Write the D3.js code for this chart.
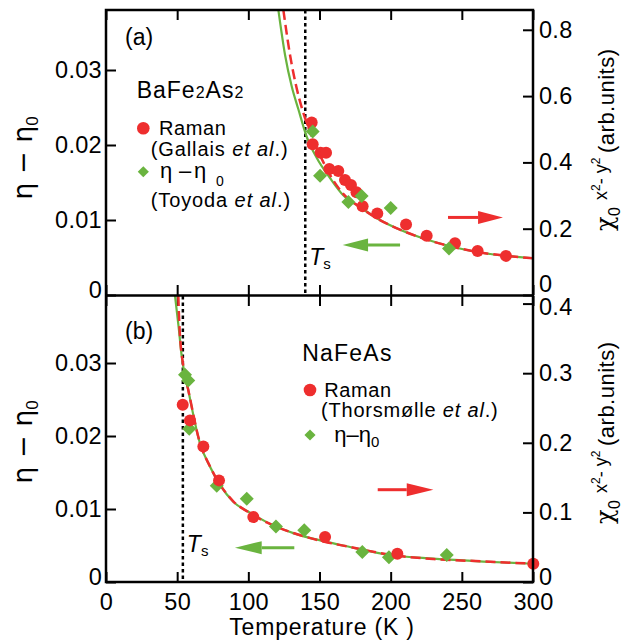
<!DOCTYPE html>
<html>
<head>
<meta charset="utf-8">
<script src="https://cdn.jsdelivr.net/npm/d3@7"></script>
<style>
  body { margin: 0; background: #fff; }
  svg { display: block; font-family: "Liberation Sans", Arial, Helvetica, sans-serif; }
</style>
</head>
<body>
<svg id="chart" width="632" height="644"></svg>
<script>
// ---- shared axis ticks ----
const tempTicks = [0, 50, 100, 150, 200, 250, 300];
const etaTicks = [0, 0.01, 0.02, 0.03];
const chiTicksA = [0, 0.2, 0.4, 0.6, 0.8];
const chiTicksB = [0, 0.1, 0.2, 0.3, 0.4];

// ---- (a) BaFe2As2 ----
const ramanTempA = [144.5, 145.2, 150.8, 154.6, 156.9, 163.2, 167.9, 172.1, 176.0, 180.3, 190.6, 210.8, 225.3, 245.2, 261.1, 281.0];
const ramanChiA  = [0.520, 0.455, 0.429, 0.429, 0.380, 0.374, 0.347, 0.332, 0.310, 0.268, 0.246, 0.213, 0.179, 0.156, 0.133, 0.118];
const etaTempA = [145.2, 150.4, 170.3, 179.6, 200.0, 241.0];
const etaA     = [0.0218, 0.0159, 0.0124, 0.0132, 0.0116, 0.0062];
const fitEtaTempA = [121.1, 125.8, 130.5, 135.1, 141.0, 148.0, 157.4, 166.7, 178.5, 192.5, 206.6, 225.3, 241.7, 265.1, 300];
const fitEtaA     = [0.0380, 0.0320, 0.0278, 0.0248, 0.0211, 0.0183, 0.0156, 0.0133, 0.0117, 0.0100, 0.0087, 0.0074, 0.0065, 0.0056, 0.0049];
const fitChiTempA = [124.6, 129.3, 134.0, 138.6, 142.0, 145.0, 148.0, 152.0, 157.4, 166.7, 178.5, 192.5, 206.6, 225.3, 241.7, 265.1, 300];
const fitChiA     = [0.860, 0.724, 0.623, 0.550, 0.508, 0.474, 0.443, 0.407, 0.362, 0.305, 0.265, 0.226, 0.197, 0.167, 0.147, 0.127, 0.111];
const tsA = 140;

// ---- (b) NaFeAs ----
const ramanTempB = [53.9, 59.0, 68.4, 79.4, 103.5, 153.9, 204.7, 300.2];
const ramanChiB  = [0.2547, 0.2322, 0.1948, 0.146, 0.0934, 0.0647, 0.0407, 0.0263];
const etaTempB = [55.5, 57.8, 58.5, 77.8, 98.9, 119.4, 139.3, 180.1, 198.8, 239.4];
const etaB     = [0.0284, 0.0276, 0.0210, 0.0132, 0.0114, 0.0076, 0.0071, 0.0041, 0.0034, 0.0037];
const fitEtaTempB = [48.5, 51.0, 53.2, 57.8, 66.0, 73.1, 80.1, 89.4, 101.2, 112.9, 131.6, 152.7, 171.4, 199.5, 230.0, 265.1, 300];
const fitEtaB     = [0.0392, 0.0350, 0.0309, 0.0263, 0.0190, 0.0158, 0.0133, 0.0110, 0.0095, 0.0082, 0.0067, 0.0056, 0.0048, 0.0037, 0.0032, 0.0028, 0.0025];
const fitChiTempB = [50.8, 51.5, 54.3, 57.8, 66.0, 73.1, 80.1, 89.4, 101.2, 112.9, 131.6, 152.7, 171.4, 199.5, 230.0, 265.1, 300];
const fitChiB     = [0.411, 0.372, 0.310, 0.276, 0.200, 0.166, 0.140, 0.116, 0.0989, 0.0856, 0.0704, 0.0583, 0.0503, 0.0392, 0.0330, 0.0296, 0.0263];
const tsB = 54;

// arrows: [tailT, tipT, headBaseT, value] (value on the axis the arrow points to)
const arrowChiA = [240.3, 278.9, 261.4, 0.234];
const arrowEtaA = [206.6, 166.3, 184.1, 0.00667];
const arrowChiB = [190.9, 230.0, 211.3, 0.1326];
const arrowEtaB = [132.3, 90.6, 109.4, 0.0047];

const RED = "#ee2e2e";
const GREEN = "#6ab43f";
const FONT = "'Liberation Sans', Arial, Helvetica, sans-serif";
const GREEK = "'DejaVu Sans', 'Liberation Sans', sans-serif";
const CHI = "'DejaVu Serif', 'Liberation Serif', serif";

const svg = d3.select("#chart");
svg.append("rect").attr("width", 632).attr("height", 644).attr("fill", "#fff");

const left = 106, right = 533;
const x = d3.scaleLinear().domain([0, 300]).range([left, right]);

const zip = (a, b) => a.map((v, i) => [v, b[i]]);

const panels = [
  { id: "a", top: 10, bottom: 295, etaMax: 0.0380, chiMax: 0.8597, chiTicks: chiTicksA,
    raman: zip(ramanTempA, ramanChiA), eta: zip(etaTempA, etaA),
    fitEta: zip(fitEtaTempA, fitEtaA), fitChi: zip(fitChiTempA, fitChiA),
    ts: tsA, arrowChi: arrowChiA, arrowEta: arrowEtaA, diamondsOnTop: true, labels: false,
    zeroShiftL: 2, zeroShiftR: -4, topShiftR: 0 },
  { id: "b", top: 296, bottom: 582, etaMax: 0.03918, chiMax: 0.4109, chiTicks: chiTicksB,
    raman: zip(ramanTempB, ramanChiB), eta: zip(etaTempB, etaB),
    fitEta: zip(fitEtaTempB, fitEtaB), fitChi: zip(fitChiTempB, fitChiB),
    ts: tsB, arrowChi: arrowChiB, arrowEta: arrowEtaB, diamondsOnTop: false, labels: true,
    zeroShiftL: 2, zeroShiftR: 2, topShiftR: 3 }
];

const fmtEta = d => d === 0 ? "0" : d3.format(".2f")(d);
const fmtChi = d => d === 0 ? "0" : d3.format(".1f")(d);

function styleAxis(g) {
  g.attr("font-family", FONT).attr("font-size", 23.5);
  g.select(".domain").remove();
  g.selectAll(".tick line").attr("stroke", "#000").attr("stroke-width", 2);
  g.selectAll(".tick text").attr("fill", "#000").attr("letter-spacing", "0.3px");
}

const diamond = d3.symbol(d3.symbolSquare, 98)();
const diamondSmall = d3.symbol(d3.symbolSquare, 62)();

panels.forEach(p => {
  const yL = d3.scaleLinear().domain([0, p.etaMax]).range([p.bottom, p.top]);
  const yR = d3.scaleLinear().domain([0, p.chiMax]).range([p.bottom, p.top]);
  const g = svg.append("g").attr("class", "panel-" + p.id);

  // clip region for the fitted curves
  const clipId = "clip-" + p.id;
  svg.append("clipPath").attr("id", clipId)
    .append("rect").attr("x", left).attr("y", p.top).attr("width", right - left).attr("height", p.bottom - p.top);

  // axes with inward ticks
  g.append("g").attr("transform", `translate(${left},0)`)
    .call(d3.axisLeft(yL).tickValues(etaTicks).tickSize(-10).tickPadding(4).tickFormat(fmtEta))
    .call(styleAxis)
    .selectAll(".tick text").filter(d => d === 0).attr("dy", null).attr("y", p.zeroShiftL);
  const rAxis = g.append("g").attr("transform", `translate(${right},0)`)
    .call(d3.axisRight(yR).tickValues(p.chiTicks).tickSize(-10).tickPadding(6).tickFormat(fmtChi))
    .call(styleAxis);
  rAxis.selectAll(".tick text").filter(d => d === 0).attr("dy", null).attr("y", p.zeroShiftR);
  rAxis.selectAll(".tick text").filter(d => d === p.chiTicks[p.chiTicks.length - 1]).attr("y", p.topShiftR);
  g.append("g").attr("transform", `translate(0,${p.bottom})`)
    .call(d3.axisBottom(x).tickValues(tempTicks).tickSize(-10).tickPadding(11).tickFormat(p.labels ? d3.format("d") : () => ""))
    .call(styleAxis);
  g.append("g").attr("transform", `translate(0,${p.top})`)
    .call(d3.axisTop(x).tickValues(tempTicks).tickSize(-10).tickFormat(() => ""))
    .call(styleAxis);

  // structural transition line
  g.append("line")
    .attr("x1", x(p.ts)).attr("x2", x(p.ts)).attr("y1", p.top).attr("y2", p.bottom)
    .attr("stroke", "#000").attr("stroke-width", 2.5).attr("stroke-dasharray", "3.5,3");

  // fitted curves
  const curves = g.append("g").attr("clip-path", `url(#${clipId})`);
  curves.append("path").datum(p.fitEta)
    .attr("d", d3.line().x(d => x(d[0])).y(d => yL(d[1])).curve(d3.curveMonotoneX))
    .attr("fill", "none").attr("stroke", GREEN).attr("stroke-width", 2.2);
  curves.append("path").datum(p.fitChi)
    .attr("d", d3.line().x(d => x(d[0])).y(d => yR(d[1])).curve(d3.curveMonotoneX))
    .attr("fill", "none").attr("stroke", RED).attr("stroke-width", 2.5).attr("stroke-dasharray", "10,5");

  // data markers
  const drawCircles = () => g.append("g").selectAll("circle").data(p.raman).join("circle")
    .attr("cx", d => x(d[0])).attr("cy", d => yR(d[1])).attr("r", 6).attr("fill", RED);
  const drawDiamonds = () => g.append("g").selectAll("path").data(p.eta).join("path")
    .attr("d", diamond)
    .attr("transform", d => `translate(${x(d[0])},${yL(d[1])}) rotate(45)`)
    .attr("fill", GREEN);
  if (p.diamondsOnTop) { drawCircles(); drawDiamonds(); } else { drawDiamonds(); drawCircles(); }

  // arrows showing which axis each series uses
  const arrow = (spec, yScale, color) => {
    const [tail, tip, base, v] = spec;
    const yy = yScale(v);
    g.append("line").attr("x1", x(tail)).attr("x2", x(base)).attr("y1", yy).attr("y2", yy)
      .attr("stroke", color).attr("stroke-width", 3);
    g.append("path")
      .attr("d", `M${x(tip)},${yy}L${x(base)},${yy - 6.5}L${x(base)},${yy + 6.5}Z`)
      .attr("fill", color);
  };
  arrow(p.arrowChi, yR, RED);
  arrow(p.arrowEta, yL, GREEN);

  // T_s label
  const tsText = g.append("text").attr("x", x(p.ts) + 4).attr("y", p.id === "a" ? 265 : 552)
    .attr("font-size", 23).attr("fill", "#000");
  tsText.append("tspan").attr("font-style", "italic").text("T");
  tsText.append("tspan").attr("font-size", 15).attr("dy", 4).text("s");

  // left axis title: η − η0
  const lt = g.append("text")
    .attr("transform", `translate(32,${p.id === "a" ? 158 : 442}) rotate(-90)`)
    .attr("text-anchor", "middle").attr("font-size", 27).attr("fill", "#000")
    .attr("font-family", GREEK);
  lt.append("tspan").text("η − η");
  lt.append("tspan").attr("font-family", FONT).attr("font-size", 17).attr("dy", 6).text("0");

  // right axis title: χ0^(x²-y²) (arb.units)
  const rt = g.append("g").attr("transform", `translate(614,${p.id === "a" ? 232 : 525}) rotate(-90)`)
    .attr("fill", "#000");
  rt.append("text").attr("x", 1).attr("y", -1).attr("font-size", 24).attr("font-family", CHI).text("χ");
  rt.append("text").attr("x", 16).attr("y", 6).attr("font-size", 16).text("0");
  const sup = rt.append("text").attr("x", 32).attr("y", -7).attr("font-size", 18).attr("xml:space", "preserve");
  sup.append("tspan").text("x");
  sup.append("tspan").attr("font-size", 12).attr("dy", -7).text("2");
  sup.append("tspan").attr("dy", 7).text("- y");
  sup.append("tspan").attr("font-size", 12).attr("dy", -7).text("2");
  rt.append("text").attr("x", 79).attr("y", 0).attr("font-size", 22).attr("letter-spacing", "0.5px").text("(arb.units)");
});

// frame
svg.append("rect").attr("x", left).attr("y", 10).attr("width", right - left).attr("height", 572)
  .attr("fill", "none").attr("stroke", "#000").attr("stroke-width", 2.5);
svg.append("line").attr("x1", left).attr("x2", right).attr("y1", 295.5).attr("y2", 295.5)
  .attr("stroke", "#000").attr("stroke-width", 2.5);

// x axis title
svg.append("text").attr("x", 322).attr("y", 635).attr("text-anchor", "middle")
  .attr("font-size", 23).attr("letter-spacing", "0.8px").attr("fill", "#000")
  .text("Temperature (K )");

// panel tags
svg.append("text").attr("x", 125).attr("y", 45).attr("font-size", 23).text("(a)");
svg.append("text").attr("x", 125).attr("y", 339).attr("font-size", 23).text("(b)");

// legend (a)
const la = svg.append("g").attr("fill", "#000");
const ba = la.append("text").attr("x", 136.7).attr("y", 98).attr("font-size", 23).attr("letter-spacing", "1px");
ba.append("tspan").text("BaFe");
ba.append("tspan").attr("font-size", 16).text("2");
ba.append("tspan").text("As");
ba.append("tspan").attr("font-size", 16).text("2");
la.append("circle").attr("cx", 143.3).attr("cy", 128.3).attr("r", 6.3).attr("fill", RED);
la.append("text").attr("x", 159).attr("y", 135).attr("font-size", 20).attr("letter-spacing", "0.6px").text("Raman");
const ga = la.append("text").attr("x", 150.7).attr("y", 156).attr("font-size", 20).attr("letter-spacing", "0.9px");
ga.append("tspan").text("(Gallais ");
ga.append("tspan").attr("font-style", "italic").text("et al");
ga.append("tspan").text(".)");
la.append("path").attr("d", diamondSmall).attr("transform", "translate(143.3,171.7) rotate(45)").attr("fill", GREEN);
la.append("text").attr("x", 160).attr("y", 178).attr("font-size", 22).text("η");
la.append("text").attr("x", 179).attr("y", 178).attr("font-size", 22).text("–");
la.append("text").attr("x", 194).attr("y", 178).attr("font-size", 22).text("η");
la.append("text").attr("x", 216).attr("y", 186).attr("font-size", 14).text("0");
const ta = la.append("text").attr("x", 150.7).attr("y", 206.5).attr("font-size", 20).attr("letter-spacing", "0.9px");
ta.append("tspan").text("(Toyoda ");
ta.append("tspan").attr("font-style", "italic").text("et al");
ta.append("tspan").text(".)");

// legend (b)
const lb = svg.append("g").attr("fill", "#000");
lb.append("text").attr("x", 302.3).attr("y", 361).attr("font-size", 23).attr("letter-spacing", "1.2px").text("NaFeAs");
lb.append("circle").attr("cx", 310).attr("cy", 390).attr("r", 6.3).attr("fill", RED);
lb.append("text").attr("x", 324.3).attr("y", 397).attr("font-size", 20).attr("letter-spacing", "0.6px").text("Raman");
const tb = lb.append("text").attr("x", 321).attr("y", 417).attr("font-size", 20).attr("letter-spacing", "0.8px");
tb.append("tspan").text("(Thorsmølle ");
tb.append("tspan").attr("font-style", "italic").text("et al");
tb.append("tspan").text(".)");
lb.append("path").attr("d", diamondSmall).attr("transform", "translate(310,435) rotate(45)").attr("fill", GREEN);
const eb = lb.append("text").attr("x", 334.3).attr("y", 442).attr("font-size", 22);
eb.append("tspan").text("η–η");
eb.append("tspan").attr("font-size", 15).attr("dy", 5).text("0");
</script>
</body>
</html>
